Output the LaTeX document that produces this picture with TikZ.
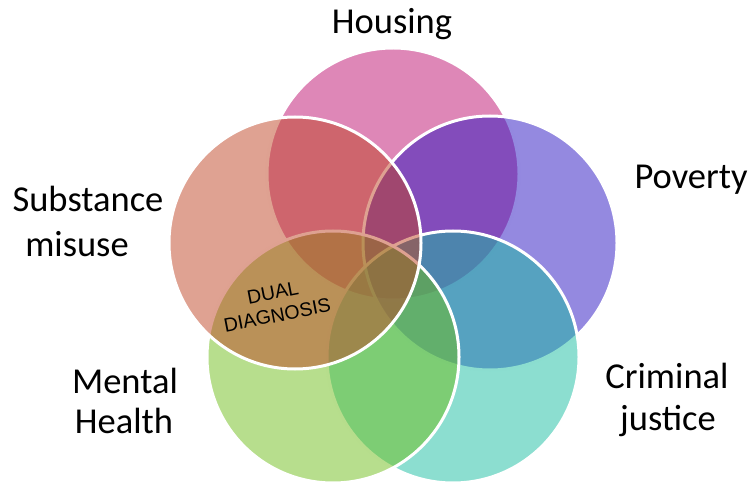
\documentclass[tikz,border=0pt]{standalone}
\usepackage{fontspec}
\setmainfont{Carlito}
\newfontfamily\diagfont{Liberation Sans}
% base colours of the five rings (drawn at half opacity)
\definecolor{housingC}{RGB}{189,15,111}
\definecolor{povertyC}{RGB}{41,19,193}
\definecolor{crimeC}{RGB}{25,189,161}
\definecolor{mentalC}{RGB}{111,189,27}
\definecolor{substC}{RGB}{191,69,37}
\begin{document}
\begin{tikzpicture}[x=1pt,y=-1pt,
  ring/.style={fill opacity=0.5, draw=white, line width=3pt},
  lbl/.style={font=\fontsize{36.5}{42}\selectfont, anchor=base, inner sep=0pt}]
\useasboundingbox (0,0) rectangle (752,486);
% rings, back to front
\path[ring, fill=housingC] (393,174) circle[radius=126];
\path[ring, fill=povertyC] (490,243) circle[radius=127];
\path[ring, fill=crimeC]   (453,357) circle[radius=126];
\path[ring, fill=mentalC]  (333,357) circle[radius=126];
\path[ring, fill=substC]   (295,243) circle[radius=126];
% ring captions
\node[lbl] (housing) at (392,34) {Housing};
\node[lbl] (poverty) at (691,189) {Poverty};
\node[lbl] (subst1) at (88,212) {Substance};
\node[lbl] (subst2) at (77,257) {misuse};
\node[lbl] (mental1) at (125,393) {Mental};
\node[lbl] (mental2) at (124,433) {Health};
\node[lbl] (crim1) at (667,388) {Criminal};
\node[lbl] (crim2) at (668,430) {justice};
% overlap caption
\node[font=\diagfont\fontsize{19.5}{23}\selectfont, align=center, rotate=11, inner sep=0pt] (dual) at (275,304) {DUAL\\DIAGNOSIS};
\end{tikzpicture}
\end{document}
